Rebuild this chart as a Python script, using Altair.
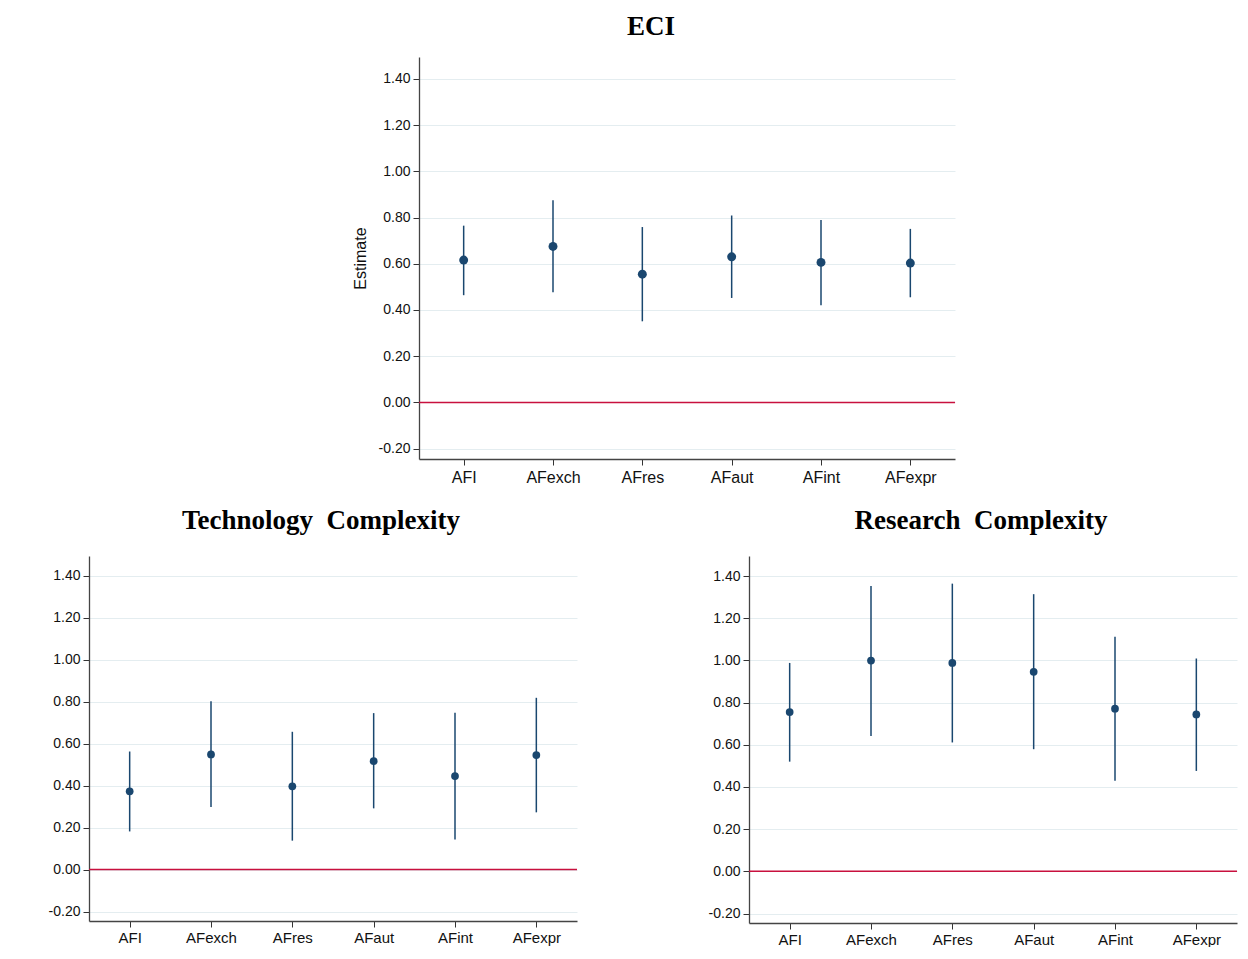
import altair as alt
import pandas as pd

categories = ["AFI", "AFexch", "AFres", "AFaut", "AFint", "AFexpr"]

eci_est = [0.616, 0.675, 0.555, 0.630, 0.606, 0.603]
eci_lo = [0.464, 0.477, 0.351, 0.452, 0.420, 0.455]
eci_hi = [0.765, 0.875, 0.759, 0.809, 0.790, 0.751]

tech_est = [0.373, 0.549, 0.397, 0.517, 0.446, 0.546]
tech_lo = [0.182, 0.298, 0.138, 0.292, 0.143, 0.273]
tech_hi = [0.563, 0.803, 0.657, 0.746, 0.748, 0.819]

res_est = [0.755, 0.999, 0.988, 0.946, 0.771, 0.744]
res_lo = [0.520, 0.642, 0.611, 0.579, 0.429, 0.476]
res_hi = [0.988, 1.353, 1.364, 1.314, 1.112, 1.009]

y_ticks = [-0.2, 0.0, 0.2, 0.4, 0.6, 0.8, 1.0, 1.2, 1.4]

NAVY = "#1a476f"
RED = "#c8103e"
GRID = "#e4edf0"
SANS = "Liberation Sans"
SERIF = "Liberation Serif"

LABEL_EXPR = "(datum.value < 0 ? '-' : '') + format(abs(datum.value), '.2f')"


def panel(title, est, lo, hi, width, height, ytitle, title_size, title_y, title_dx,
          xlab_size, ylab_size, dot_size, xlab_pad):
    df = pd.DataFrame({"cat": categories, "est": est, "lo": lo, "hi": hi})
    x = alt.X(
        "cat:N",
        sort=categories,
        scale=alt.Scale(type="point", padding=0.5),
        axis=alt.Axis(
            title=None, labelAngle=0, grid=False, labelFont=SANS,
            labelFontSize=xlab_size, labelColor="#111", tickSize=6,
            tickColor="#333", domainColor="#444", domainWidth=1.3,
            labelPadding=xlab_pad,
        ),
    )
    yaxis_kw = dict(
        values=y_ticks, labelExpr=LABEL_EXPR, grid=True, gridColor=GRID, gridWidth=1,
        labelFont=SANS, labelFontSize=ylab_size, labelColor="#111",
        tickSize=6, tickColor="#333", domainColor="#444", domainWidth=1.3,
        labelPadding=3,
    )
    if ytitle:
        yaxis_kw.update(title=ytitle, titleFont=SANS, titleFontSize=16,
                        titleFontWeight="normal", titleColor="#111",
                        titlePadding=10)
    else:
        yaxis_kw.update(title=None)
    yscale = alt.Scale(domain=[-0.245, 1.495], nice=False, zero=False)
    base = alt.Chart(df)
    rules = base.mark_rule(color=NAVY, strokeWidth=1.5).encode(
        x=x,
        y=alt.Y("lo:Q", scale=yscale, axis=alt.Axis(**yaxis_kw)),
        y2="hi:Q",
    )
    zero = alt.Chart(pd.DataFrame({"z": [0.0]})).mark_rule(
        color=RED, strokeWidth=1.5
    ).encode(y=alt.Y("z:Q", scale=yscale))
    pts = base.mark_point(filled=True, color=NAVY, opacity=1, size=dot_size).encode(
        x=x, y=alt.Y("est:Q", scale=yscale)
    )
    ttl = alt.Chart(pd.DataFrame({"t": [title]})).mark_text(
        font=SERIF, fontSize=title_size, fontWeight="bold", color="#000",
        align="center", baseline="alphabetic",
    ).encode(
        text="t:N",
        x=alt.value(width / 2 + title_dx),
        y=alt.value(title_y),
    )
    return alt.layer(rules, zero, pts, ttl).properties(width=width, height=height)


eci = panel("ECI", eci_est, eci_lo, eci_hi, 536, 402, "Estimate", 27, -22, -36, 16, 14, 80, 4)
tech = panel("Technology\u00a0\u00a0Complexity", tech_est, tech_lo, tech_hi, 488, 365, None, 27, -27, -12, 15, 14, 60, 3)
res = panel("Research\u00a0\u00a0Complexity", res_est, res_lo, res_hi, 488, 367, None, 27, -27, -12, 15, 14, 60, 3)

spacer = alt.Chart(pd.DataFrame({"a": [0]})).mark_point(opacity=0).encode(
    x=alt.value(0), y=alt.value(0)
).properties(width=263, height=10)

top = alt.hconcat(spacer, eci, spacing=0)
bottom = alt.hconcat(tech, res, spacing=130)

chart = alt.vconcat(top, bottom, spacing=22).properties(
    padding={"left": 40, "top": 5, "right": 0, "bottom": 0},
    background="white",
).configure_view(stroke="transparent", strokeWidth=0)

chart.save("out.html", embed_options={"renderer": "svg", "actions": False})
